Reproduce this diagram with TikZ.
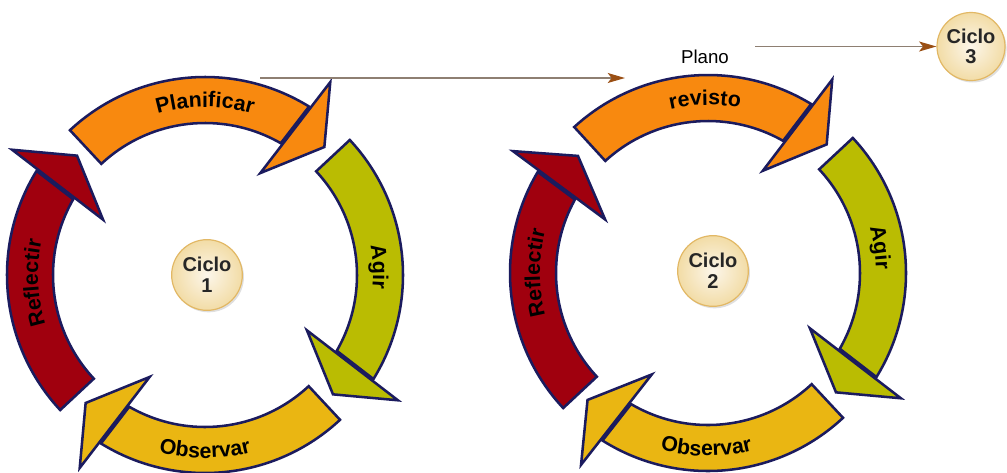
\documentclass[tikz,border=0pt]{standalone}
\usepackage{fontspec}
\setmainfont{Liberation Sans}
\usetikzlibrary{arrows.meta,decorations.text,shadows}

\definecolor{rim}{HTML}{1B1B5E}
\definecolor{cPlan}{HTML}{F8890F}
\definecolor{cAgir}{HTML}{BABC02}
\definecolor{cObs}{HTML}{EAB612}
\definecolor{cRef}{HTML}{A0000E}
\definecolor{creamIn}{HTML}{FCF6EA}
\definecolor{creamOut}{HTML}{F2DCA6}
\definecolor{creamRim}{HTML}{E2B865}
\definecolor{linkLine}{HTML}{8E7F72}
\definecolor{linkTip}{HTML}{9A4F14}

\newcommand\seglbl{\fontsize{16}{18}\selectfont\bfseries}

% one curved band of a cycle, start angle #1, end angle #2 (clockwise), fill #3
\newcommand\cycseg[3]{%
  \filldraw[segment, fill=#3] (#1:198) arc[start angle=#1, end angle=#2+1.3, radius=198]
    -- (#2+3.1:152) arc[start angle=#2+3.1, end angle=#1, radius=152] -- cycle;
  \filldraw[segment, fill=#3] (#2+4.5:116) -- (#2:230) -- (#2-10:175) -- cycle;}

% curved label, centred at angle #1 on radius #2, read clockwise
\newcommand\cwlabel[3]{%
  \path[decorate, decoration={text along path, text align=center, text={|\seglbl|#3}}]
    (#1+40:#2) arc[start angle=#1+40, end angle=#1-40, radius=#2];}
% curved label read counter-clockwise
\newcommand\ccwlabel[3]{%
  \path[decorate, decoration={text along path, text align=center, text={|\seglbl|#3}}]
    (#1-40:#2) arc[start angle=#1-40, end angle=#1+40, radius=#2];}

\begin{document}
\begin{tikzpicture}[x=0.75pt, y=0.75pt,
  segment/.style={draw=rim, line width=1.9pt, line join=miter},
  ciclo/.style={circle, draw=creamRim, line width=0.9pt, inner color=creamIn, outer color=creamOut,
    minimum size=53pt, inner sep=0pt, align=center, text=black!85,
    font=\fontsize{15}{15.5}\selectfont\bfseries,
    drop shadow={opacity=0.25, shadow xshift=1.2pt, shadow yshift=-1.5pt}},
  link/.style={draw=linkLine, line width=1.1pt, -{Stealth[length=13pt, width=7.5pt, inset=3pt, color=linkTip]}}]

\useasboundingbox (0,0) rectangle (1007,-472);

% first cycle
\begin{scope}[shift={(205,-275)}]
  \cycseg{133}{57}{cPlan}
  \cycseg{43}{-33}{cAgir}
  \cycseg{-47}{-123}{cObs}
  \cycseg{223}{147}{cRef}
  \cwlabel{90}{168}{Planificar}
  \cwlabel{2.7}{168}{Agir}
  \ccwlabel{-90}{183}{Observar}
  \cwlabel{182.7}{167}{Reflectir}
\end{scope}

% second cycle
\begin{scope}[shift={(708,-273)}]
  \cycseg{132.5}{57.3}{cPlan}
  \cycseg{43}{-33}{cAgir}
  \cycseg{-47}{-123.5}{cObs}
  \cycseg{223}{148}{cRef}
  \cwlabel{91}{168}{revisto}
  \cwlabel{8.5}{168}{Agir}
  \ccwlabel{-90.5}{183}{Observar}
  \cwlabel{180}{168}{Reflectir}
\end{scope}

\node[ciclo] (k1) at (207,-275) {Ciclo\\1};
\node[ciclo] (k2) at (713,-271) {Ciclo\\2};
\node[ciclo, minimum size=51pt] (k3) at (971,-46.5) {Ciclo\\3};

\node[font=\fontsize{14}{16}\selectfont] (plano) at (705,-57) {Plano};

\coordinate (a1s) at (260,-78);
\coordinate (a1e) at (625,-78);
\coordinate (a2s) at (755,-46.5);

\draw[link] (a1s) -- (a1e);
\draw[link] (a2s) -- (k3.west);
\end{tikzpicture}
\end{document}
